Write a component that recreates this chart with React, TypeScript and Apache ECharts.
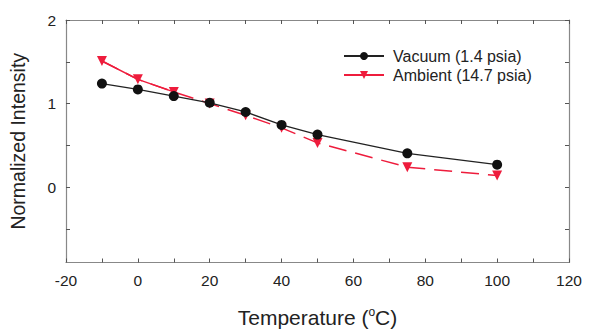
import React, { useEffect, useRef } from "react";
import * as echarts from "echarts";

const temps = [-10, 0, 10, 20, 30, 40, 50, 75, 100];
const vacuum = [1.24, 1.17, 1.09, 1.01, 0.9, 0.745, 0.63, 0.405, 0.27];
const ambient = [1.51, 1.29, 1.14, 1.0, 0.86, 0.71, 0.53, 0.24, 0.14];
const yTicks = [-0.5, 0, 0.5, 1, 1.5, 2];
const yLabels = [0, 1, 2];

const RED = "#ee1c3c";
const FONT = "Liberation Sans, Arial, sans-serif";

export default function App() {
  const ref = useRef<HTMLDivElement>(null);
  useEffect(() => {
    const chart = echarts.init(ref.current!, null, { renderer: "svg" });
    const vac = temps.map((t, i) => [t, vacuum[i]]);
    const amb = temps.map((t, i) => [t, ambient[i]]);
    const axisLine = { show: true, onZero: false, lineStyle: { color: "#888", width: 1.2 } };
    const tick = { show: true, inside: true, length: 4, lineStyle: { color: "#555" } };
    chart.setOption({
      animation: false,
      backgroundColor: "#fff",
      textStyle: { fontFamily: FONT },
      grid: { left: 65, right: 21, top: 20, bottom: 66 },
      legend: {
        left: 338,
        top: 43,
        orient: "vertical",
        itemWidth: 40,
        itemHeight: 10,
        itemGap: 3,
        textStyle: { fontSize: 16, color: "#222", fontFamily: FONT, padding: [0, 0, 0, 4] },
        data: [
          { name: "Vacuum (1.4 psia)" },
          { name: "Ambient (14.7 psia)", lineStyle: { type: "solid" } },
        ],
      },
      xAxis: [
        {
          type: "value",
          min: -20,
          max: 120,
          interval: 10,
          axisLine,
          axisTick: tick,
          splitLine: { show: false },
          axisLabel: {
            fontSize: 15.5,
            color: "#222",
            margin: 10,
            fontFamily: FONT,
            formatter: (v: number) => (v % 20 === 0 ? String(v) : ""),
          },
          name: "Temperature ({sup|o}C)",
          nameLocation: "middle",
          nameGap: 43,
          nameTextStyle: {
            fontSize: 21,
            color: "#222",
            fontFamily: FONT,
            rich: { sup: { fontSize: 12, verticalAlign: "top", lineHeight: 24, fontFamily: FONT, color: "#222" } },
          },
        },
        {
          type: "value",
          position: "top",
          min: -20,
          max: 120,
          interval: 10,
          axisLine,
          axisTick: tick,
          splitLine: { show: false },
          axisLabel: { show: false },
        },
      ],
      yAxis: [
        {
          type: "value",
          min: -0.9,
          max: 2,
          axisLine,
          axisTick: { ...tick, customValues: yTicks },
          splitLine: { show: false },
          axisLabel: { customValues: yLabels, fontSize: 15.5, color: "#222", margin: 10, fontFamily: FONT },
          name: "Normalized Intensity",
          nameLocation: "middle",
          nameGap: 38,
          nameTextStyle: { fontSize: 19.5, color: "#222", fontFamily: FONT },
        },
        {
          type: "value",
          position: "right",
          min: -0.9,
          max: 2,
          axisLine,
          axisTick: { ...tick, customValues: yTicks },
          splitLine: { show: false },
          axisLabel: { show: false },
        },
      ],
      series: [
        {
          name: "Vacuum (1.4 psia)",
          type: "line",
          data: vac,
          symbol: "circle",
          symbolSize: 10,
          itemStyle: { color: "#111" },
          lineStyle: { color: "#222", width: 1.3 },
          z: 3,
        },
        {
          name: "Ambient (14.7 psia)",
          type: "line",
          data: amb,
          symbol: "triangle",
          symbolRotate: 180,
          symbolSize: 10,
          itemStyle: { color: RED },
          lineStyle: { color: RED, width: 1.5, type: [18, 9] },
          z: 2,
        },
        {
          name: "ambient-solid",
          type: "line",
          data: amb.slice(0, 3),
          symbol: "none",
          lineStyle: { color: RED, width: 1.5 },
          z: 2,
        },
      ],
    });
    return () => chart.dispose();
  }, []);
  return <div ref={ref} style={{ width: 590, height: 333, position: "absolute", left: 0, top: 0 }} />;
}
